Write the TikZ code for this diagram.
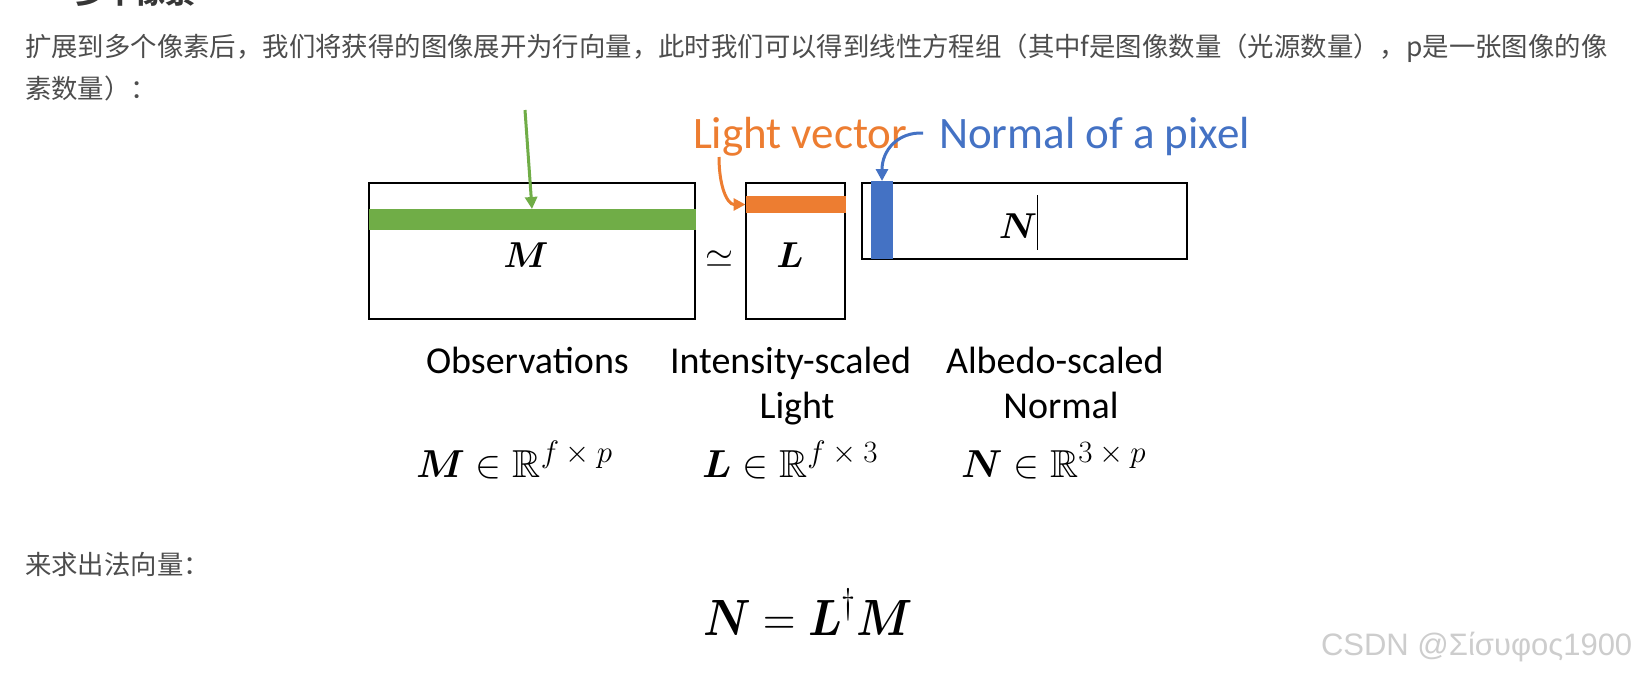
\RequirePackage{fix-cm}
\documentclass[tikz,border=0pt]{standalone}
\usepackage{amsmath,amssymb}
\usepackage{fontspec}
\setmainfont{Carlito}
\newfontfamily\cjk{Noto Sans CJK SC}
\newfontfamily\wmfont{Liberation Sans}
\usetikzlibrary{arrows.meta}
\definecolor{cnText}{HTML}{4D4D4D}
\definecolor{gbarc}{HTML}{70AD47}
\definecolor{obarc}{HTML}{ED7D31}
\definecolor{bbarc}{HTML}{4472C4}
\definecolor{wmc}{HTML}{CDCDCD}
\newcommand{\supsz}[1]{\hbox{\fontsize{31}{34}\selectfont$#1$}}
\tikzset{
  plain/.style={inner sep=0pt, outer sep=0pt},
  cntext/.style={plain, anchor=base west, text=cnText, font=\cjk\fontsize{26.4}{30}\selectfont},
  mbox/.style={plain, draw=black, line width=1.4pt, fill=white},
  vbar/.style={plain, draw=none},
  callout/.style={plain, anchor=base west, font=\fontsize{45}{50}\selectfont},
  caption/.style={plain, font=\fontsize{38}{42}\selectfont},
  boxmath/.style={plain, anchor=base, font=\fontsize{36}{40}\selectfont},
  setmath/.style={plain, anchor=base west, font=\fontsize{39}{44}\selectfont},
  arr/.style={line width=3pt, -{Triangle[length=12pt,width=12pt]}},
}
\begin{document}
\begin{tikzpicture}[x=1pt,y=-1pt]
\useasboundingbox (0,0) rectangle (1639,673);
\fill[white] (0,0) rectangle (1639,673);

% cut-off heading
\node[plain, anchor=base west, text=cnText!70!black, font=\cjk\bfseries\fontsize{30}{34}\selectfont] (head) at (75,3.5) {多个像素};

% paragraph text
\node[cntext] (line1) at (25,56) {扩展到多个像素后，我们将获得的图像展开为行向量，此时我们可以得到线性方程组（其中f是图像数量（光源数量），p是一张图像的像};
\node[cntext] (line2) at (25,98) {素数量）：};

% matrices
\node[mbox, minimum width=326pt, minimum height=136pt] (Mbox) at (532,251) {};
\node[mbox, minimum width=99pt, minimum height=136pt] (Lbox) at (795.5,251) {};
\node[mbox, minimum width=325pt, minimum height=76pt] (Nbox) at (1024.5,221) {};

\node[vbar, fill=gbarc, minimum width=327pt, minimum height=21pt] (gbar) at (532,219.5) {};
\node[vbar, fill=obarc, minimum width=100pt, minimum height=17pt] (obar) at (795.5,204.5) {};
\node[vbar, fill=bbarc, minimum width=22pt, minimum height=78pt] (bbar) at (882,220) {};

\node[boxmath] (Mlab) at (526,267) {$\boldsymbol{M}$};
\node[boxmath] (Llab) at (790,267) {$\boldsymbol{L}$};
\node[boxmath] (Nlab) at (1018,238) {$\boldsymbol{N}$};
\node[plain, font=\fontsize{36}{40}\selectfont] (approx) at (719,259) {$\simeq$};

% text cursor
\coordinate (cur1) at (1037,195);
\coordinate (cur2) at (1037,250);
\draw[line width=1pt] (cur1) -- (cur2);

% callouts
\node[callout, text=obarc] (lighttxt) at (693,148) {Light vector};
\node[callout, text=bbarc] (normaltxt) at (939,148) {Normal of a pixel};

\coordinate (gs) at (525,110);
\draw[arr, gbarc] (gs) -- (gbar.north);
\coordinate (os) at (719,157);
\draw[arr, obarc] (os) .. controls (719,186) and (727,204.5) .. (obar.west);
\coordinate (bs) at (923,133);
\draw[arr, bbarc] (bs) .. controls (898,132) and (882,150) .. (bbar.north);

% captions
\node[caption, anchor=base west] (obs) at (426,373) {Observations};
\node[caption, anchor=base west] (ints) at (670,373) {Intensity-scaled};
\node[caption, anchor=base] (ints2) at (797,418) {Light};
\node[caption, anchor=base west] (albs) at (946,373) {Albedo-scaled};
\node[caption, anchor=base] (albs2) at (1061,418) {Normal};

% set memberships
\node[setmath] (Mset) at (416,477) {$\boldsymbol{M}\in\mathbb{R}^{\supsz{f\times p}}$};
\node[setmath] (Lset) at (702,477) {$\boldsymbol{L}\in\mathbb{R}^{\supsz{f\times 3}}$};
\node[setmath] (Nset) at (961,477) {$\boldsymbol{N}\in\mathbb{R}^{\supsz{3\times p}}$};

% bottom
\node[cntext] (line3) at (25,574) {来求出法向量：};
\node[plain, anchor=base west, font=\fontsize{51}{56}\selectfont] (eq) at (703,635) {\scalebox{0.88}[1]{$\boldsymbol{N}=\boldsymbol{L}^{\dagger}\boldsymbol{M}$}};

% watermark
\node[plain, anchor=base west, text=wmc, font=\wmfont\fontsize{31}{34}\selectfont] (wm) at (1321,655) {CSDN @Σίσυφος1900};
\end{tikzpicture}
\end{document}
